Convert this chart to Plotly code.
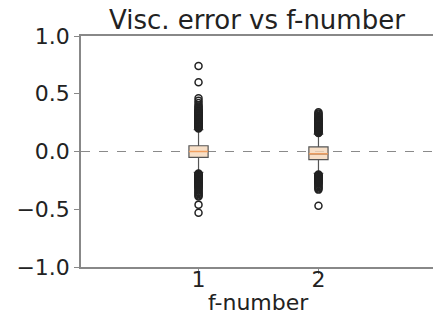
import plotly.graph_objects as go

# ---- data ----
positions = [1, 2]
tick_labels = ["1", "2"]
q1 = [-0.05, -0.07]
median = [0.0, -0.02]
q3 = [0.05, 0.04]
lower_whisker = [-0.18, -0.19]
upper_whisker = [0.19, 0.15]

outliers_1 = [0.20, 0.205, 0.21, 0.215, 0.22, 0.225, 0.23, 0.235, 0.24, 0.245, 0.25,
              0.255, 0.26, 0.265, 0.27, 0.275, 0.28, 0.285, 0.29, 0.295, 0.30,
              0.305, 0.31, 0.315, 0.32, 0.325, 0.33, 0.335, 0.34, 0.345, 0.35,
              0.355, 0.36, 0.37, 0.38, 0.39, 0.40, 0.42, 0.44, 0.46, 0.60, 0.74,
              -0.19, -0.195, -0.20, -0.205, -0.21, -0.215, -0.22, -0.225, -0.23,
              -0.235, -0.24, -0.245, -0.25, -0.255, -0.26, -0.265, -0.27, -0.275,
              -0.28, -0.285, -0.29, -0.295, -0.30, -0.305, -0.31, -0.32, -0.33,
              -0.34, -0.35, -0.36, -0.37, -0.38, -0.39, -0.46, -0.53]
outliers_2 = [0.16, 0.165, 0.17, 0.175, 0.18, 0.185, 0.19, 0.195, 0.20, 0.205, 0.21,
              0.215, 0.22, 0.225, 0.23, 0.235, 0.24, 0.245, 0.25, 0.255, 0.26,
              0.265, 0.27, 0.275, 0.28, 0.285, 0.29, 0.30, 0.31, 0.32, 0.33, 0.34,
              -0.20, -0.205, -0.21, -0.215, -0.22, -0.225, -0.23, -0.235, -0.24,
              -0.245, -0.25, -0.255, -0.26, -0.265, -0.27, -0.275, -0.28, -0.29,
              -0.30, -0.31, -0.32, -0.33, -0.47]
outliers = [outliers_1, outliers_2]

box_width = 0.16
FONT = "DejaVu Sans"

fig = go.Figure()
for i, x in enumerate(positions):
    fig.add_trace(go.Box(
        x=[x], q1=[q1[i]], median=[median[i]], q3=[q3[i]],
        lowerfence=[lower_whisker[i]], upperfence=[upper_whisker[i]],
        width=box_width, whiskerwidth=0.5,
        line=dict(color="#555555", width=1.2),
        fillcolor="rgba(245,215,185,0.8)",
        boxpoints=False, showlegend=False, hoverinfo="skip",
    ))
    # orange median line
    fig.add_trace(go.Scatter(
        x=[x - box_width / 2, x + box_width / 2], y=[median[i], median[i]],
        mode="lines", line=dict(color="#f2a060", width=1.5),
        showlegend=False, hoverinfo="skip",
    ))
    fig.add_trace(go.Scatter(
        x=[x] * len(outliers[i]), y=outliers[i], mode="markers",
        marker=dict(symbol="circle-open", size=7, color="#222222",
                    line=dict(width=1.5, color="#222222")),
        showlegend=False, hoverinfo="skip",
    ))

fig.add_shape(type="line", xref="paper", x0=0, x1=1, yref="y", y0=0, y1=0,
              line=dict(color="#8a8a8a", width=1.2, dash="dash"), layer="below")

fig.add_annotation(text="f-number", xref="paper", yref="paper", x=0.5, y=-0.155,
                   xanchor="center", yanchor="middle", showarrow=False,
                   font=dict(size=22, family=FONT, color="#222222"))

fig.update_layout(
    width=433, height=320,
    margin=dict(l=73, r=5, t=28, b=61, autoexpand=False),
    paper_bgcolor="white", plot_bgcolor="white",
    font=dict(family=FONT, color="#222222"),
    title=dict(text="Visc. error vs f-number", font=dict(size=26, family=FONT),
               x=0.575, xanchor="center", y=0.963, yanchor="middle"),
    xaxis=dict(range=[0.02, 2.98], tickmode="array", tickvals=positions,
               ticktext=tick_labels, tickfont=dict(size=22),
               ticks="outside", ticklen=5, tickcolor="#888888", automargin=False,
               ticklabelstandoff=-13,
               showgrid=False, zeroline=False, showline=True, mirror=True,
               linecolor="#888888", linewidth=1.5),
    yaxis=dict(range=[-1, 1], tickvals=[-1, -0.5, 0, 0.5, 1], tickformat=".1f",
               tickfont=dict(size=22), ticks="outside", ticklen=5, automargin=False,
               tickcolor="#888888", showgrid=False, zeroline=False,
               showline=True, mirror=True, linecolor="#888888", linewidth=1.5),
)

fig.write_html("out.html")
